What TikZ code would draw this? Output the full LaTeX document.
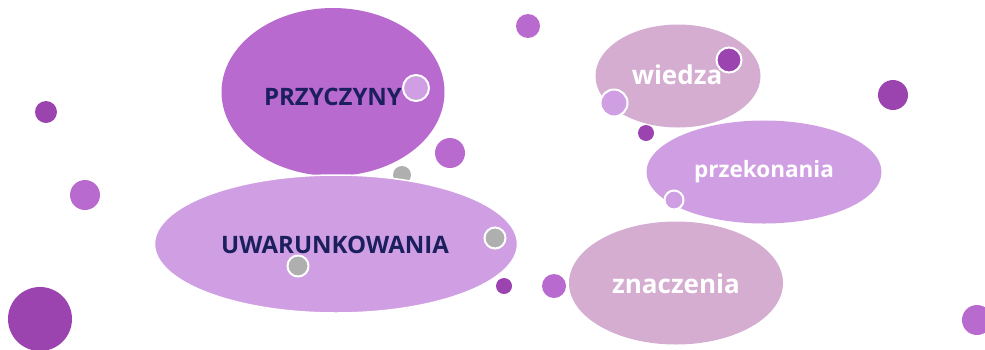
\documentclass[tikz,border=0pt]{standalone}
\usepackage{fontspec}
\setmainfont{Open Sans}
\usetikzlibrary{shapes.geometric}
\definecolor{orchid}{HTML}{B96ACF}
\definecolor{lilac}{HTML}{D09FE3}
\definecolor{mauve}{HTML}{D4ADD1}
\definecolor{plum}{HTML}{9B44B0}
\definecolor{grayd}{HTML}{AFAFAF}
\definecolor{navy}{HTML}{1B1F5E}
\tikzset{
  blob/.style={ellipse, inner sep=0pt, draw=none},
  dot/.style={circle, inner sep=0pt, draw=none, minimum size=#1},
  rdot/.style={circle, inner sep=0pt, draw=white, line width=2pt, minimum size=#1},
  darktxt/.style={text=navy, font=\bfseries\fontsize{24}{28}\selectfont},
  lighttxt/.style={text=white, font=\bfseries\fontsize{#1}{#1}\selectfont},
}
\begin{document}
\begin{tikzpicture}[x=1pt,y=-1pt]
\useasboundingbox (0,0) rectangle (985,349);
% background dots
\node[dot=24pt, fill=orchid] (d1) at (528,26) {};
\node[dot=30pt, fill=plum] (d2) at (893,95) {};
\node[dot=22pt, fill=plum] (d3) at (46,112) {};
\node[dot=30pt, fill=orchid] (d4) at (85,195) {};
\node[dot=64pt, fill=plum] (d5) at (40,319) {};
\node[dot=30pt, fill=orchid] (d6) at (977,320) {};
\node[dot=30pt, fill=orchid] (d7) at (450,153) {};
\node[dot=16pt, fill=plum] (d8) at (504,286) {};
\node[dot=24pt, fill=orchid] (d9) at (554,286) {};
\node[dot=16pt, fill=plum] (d10) at (646,133) {};
% PRZYCZYNY
\node[blob, fill=orchid, minimum width=223pt, minimum height=168pt] (przy) at (333,92) {};
\node[darktxt] (przyt) at (333,97) {PRZYCZYNY};
\node[rdot=26pt, fill=lilac] (p1) at (416,88) {};
\node[dot=18pt, fill=grayd] (g1) at (402,175) {};
% UWARUNKOWANIA
\node[blob, fill=lilac, draw=white, line width=1.5pt, minimum width=363pt, minimum height=138pt] (uwar) at (336,244) {};
\node[darktxt] (uwart) at (335,245) {UWARUNKOWANIA};
\node[rdot=21pt, fill=grayd] (u1) at (495,238) {};
\node[rdot=21pt, fill=grayd] (u2) at (298,266) {};
% wiedza
\node[blob, fill=mauve, minimum width=165pt, minimum height=103pt] (wiedza) at (678,76) {};
\node[lighttxt=26] (wiedzat) at (677,75) {wiedza};
\node[rdot=25pt, fill=plum] (w1) at (729,60) {};
\node[rdot=27pt, fill=lilac] (w2) at (614,103) {};
% przekonania
\node[blob, fill=lilac, minimum width=235pt, minimum height=103pt] (przek) at (764,172) {};
\node[lighttxt=22.5] (przekt) at (764,172) {przekonania};
\node[rdot=19pt, fill=lilac] (k1) at (674,200) {};
% znaczenia
\node[blob, fill=mauve, minimum width=214pt, minimum height=123pt] (znacz) at (676,283) {};
\node[lighttxt=26] (znaczt) at (676,284) {znaczenia};
\end{tikzpicture}
\end{document}
